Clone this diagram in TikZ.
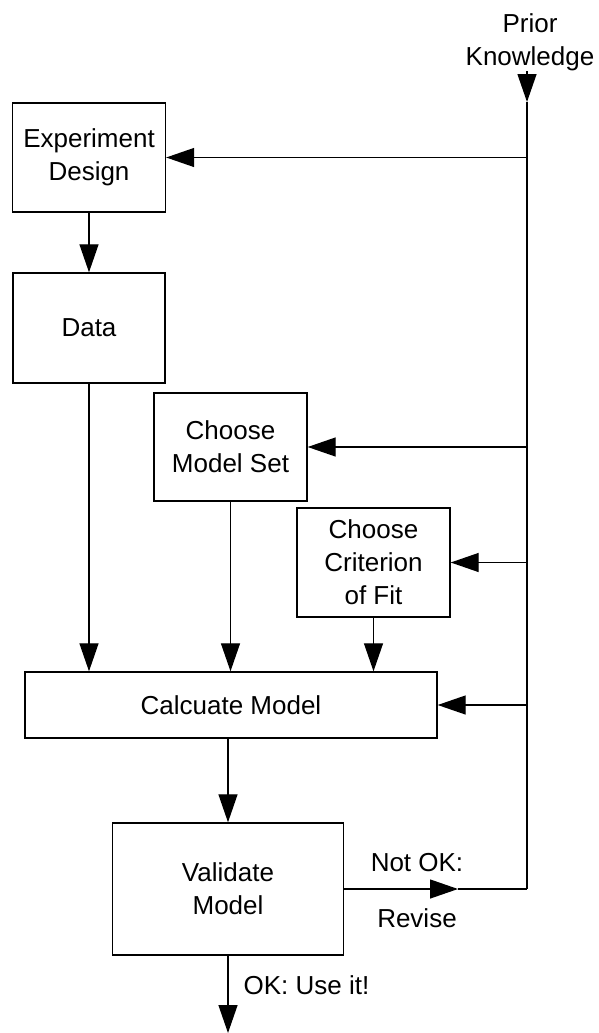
\documentclass[tikz,border=0pt]{standalone}
\usepackage{fontspec}
\setmainfont{Liberation Sans}
\usetikzlibrary{arrows.meta,positioning}

\begin{document}
\begin{tikzpicture}[
    x=1pt, y=-1pt,
    box/.style={draw,line width=1.4pt,align=center,inner sep=0pt,font=\fontsize{26}{33}\selectfont},
    lbl/.style={align=center,inner sep=0pt,font=\fontsize{26}{33}\selectfont},
    >={Triangle[length=28pt,width=19pt]}, line width=1.3pt
]
\useasboundingbox (0,0) rectangle (598,1033);
\node[lbl] (prior) at (530,42) {Prior\\Knowledge};
\node[box,minimum width=153pt,minimum height=109pt] (design) at (89,157.5) {Experiment\\Design};
\node[box,minimum width=152pt,minimum height=110pt] (data) at (89,328) {Data};
\node[box,minimum width=153pt,minimum height=108pt] (modelset) at (230.5,447) {Choose\\Model Set};
\node[box,minimum width=153pt,minimum height=109pt] (criterion) at (373.5,562.5) {Choose\\Criterion\\of Fit};
\node[box,minimum width=412pt,minimum height=66pt] (calc) at (231,705) {Calcuate Model};
\node[box,minimum width=231pt,minimum height=132pt] (validate) at (228,889) {Validate\\Model};
\node[lbl] (notok) at (417,863) {Not OK:};
\node[lbl] (revise) at (417,918) {Revise};
\node[lbl,anchor=west] (useit) at (243,985) {OK: Use it!};
\coordinate (pktip) at (527,102);
\coordinate (loop) at (527,889);
\coordinate (revtip) at (458,889);
\coordinate (out) at (228,1033);
% prior knowledge feeds every step
\draw[->] (prior.south -| pktip) -- (pktip);
\draw (pktip) -- (loop);
\draw[->] (design.east -| loop) -- (design.east);
\draw[->] (modelset.east -| loop) -- (modelset.east);
\draw[->] (criterion.east -| loop) -- (criterion.east);
\draw[->] (calc.east -| loop) -- (calc.east);
% main flow
\draw[->] (design) -- (data);
\draw[->] (data.south) -- (data.south |- calc.north);
\draw[->] (modelset.south) -- (modelset.south |- calc.north);
\draw[->] (criterion.south) -- (criterion.south |- calc.north);
\draw[->] (calc.south -| validate) -- (validate.north);
\draw[->] (validate.south) -- (out);
% revise loop
\draw[->] (validate.east) -- (revtip);
\draw (revtip) -- (loop);
\end{tikzpicture}
\end{document}
